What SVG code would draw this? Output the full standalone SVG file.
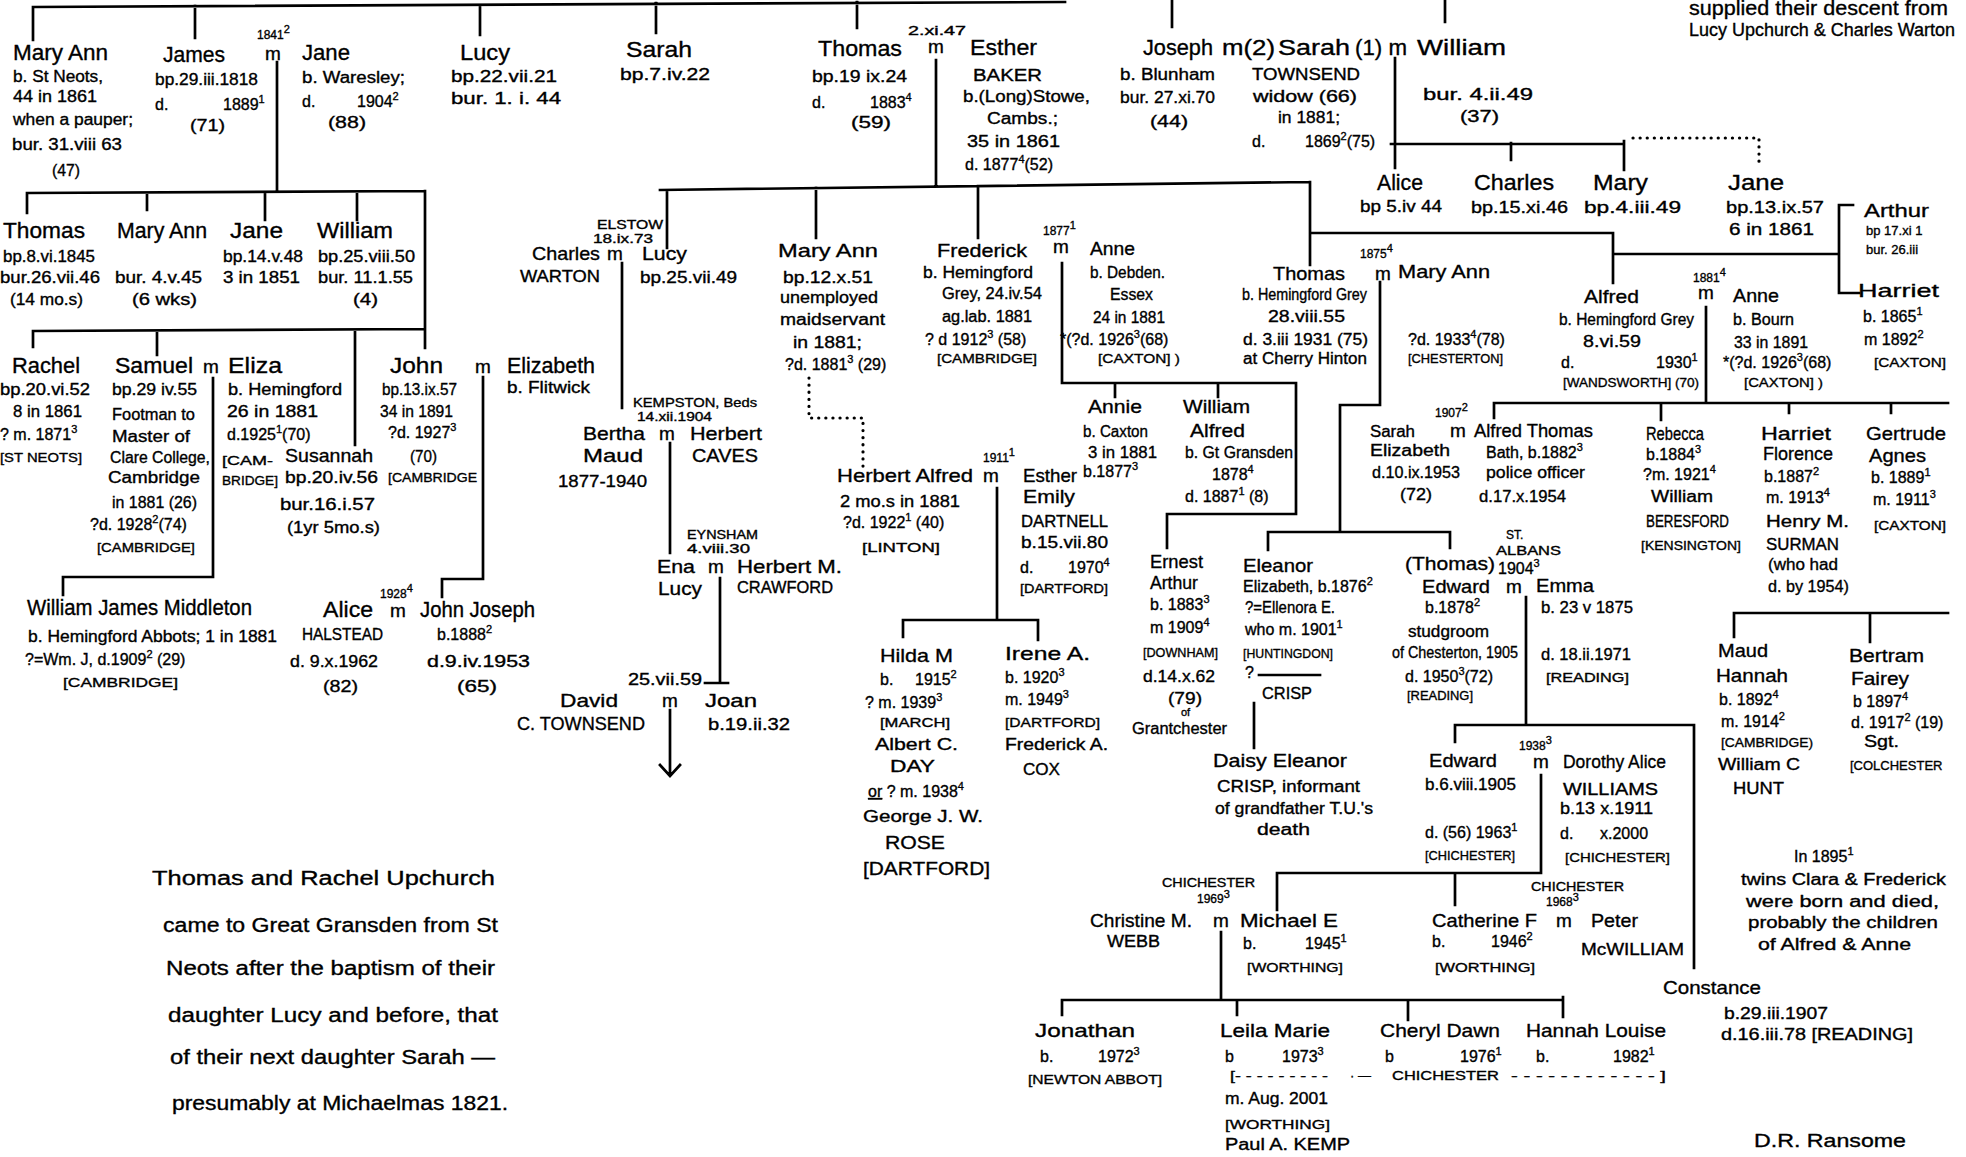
<svg xmlns="http://www.w3.org/2000/svg" width="1966" height="1157" viewBox="0 0 1966 1157">
<style>
text{font-family:"Liberation Sans",Arial,sans-serif;fill:#000;stroke:#000;stroke-width:0.35px}
.n{font-size:22px}
.a{font-size:19px}
.d{font-size:16px}
.m{font-size:19px}
.s{font-size:12px}
.k{font-size:13px}
.u{font-size:11px}
.t{font-size:20px}
.c{stroke:#000;stroke-width:2.7;fill:none;stroke-linecap:square}
.dt{stroke:#000;stroke-width:3.2;fill:none;stroke-dasharray:0.1 7;stroke-linecap:round}
</style>
<rect width="1966" height="1157" fill="#fff"/>
<g id="connectors">
<path class="c" d="M33,7 L1065,2 M33,7 V40 M195,6 V38 M480,5 V35 M656,3 V33 M857,2 V28 M1172,0 V27 M1445,0 V22
M277,62 V191 M27,193 L425,191 M27,193 V213 M147,193 V210 M265,192 V220 M357,192 V220 M425,191 V348
M33,331 L425,329 M33,331 V347 M157,331 V355 M355,330 V445
M213,378 V577 H63 V595 M483,377 V579 H442 V597
M936,60 V185 M660,190 L1310,182 M667,190 V248 M816,188 V238 M978,186 V238 M1310,182 V265 M1310,233 H1613 V283 M1613,254 H1839 M1853,205 H1839 V293 H1859
M622,263 V408 M670,443 V553 M720,578 V683 M705,683 H728 M670,710 V775 M660,765 L670,776 L680,765
M997,488 V620 M903,620 H1038 M903,620 V637 M1038,620 V640
M1062,263 V383 H1296 V514 H1167 V548 M1115,383 V397 M1218,383 V397
M1380,282 V405 H1340 V532 M1268,532 H1450 M1268,532 V550 M1450,532 V548 M1254,703 V748
M1526,597 V725 M1455,725 H1694 M1455,725 V742 M1694,725 V968
M1541,775 V872 M1277,873 H1541 M1277,873 V910 M1455,873 V905
M1221,932 V998 M1062,1000 H1563 M1062,1000 V1015 M1237,1000 V1015 M1408,1000 V1020 M1563,997 V1017
M1395,58 V168 M1391,144 H1623 M1511,143 V160 M1624,141 V170
M1706,307 V402 M1494,403 H1948 M1494,403 V418 M1661,403 V420 M1789,403 V413 M1891,403 V413
M1734,613 H1948 M1734,613 V637 M1870,613 V642"/>
<path class="dt" d="M1633,138 H1759 V167 M809,378 V418 H863 V468"/>
</g>

<g id="note-top">
<text class="t" x="1689" y="15" textLength="259" lengthAdjust="spacingAndGlyphs">supplied their descent from</text>
<text x="1689" y="36" font-size="18" textLength="266" lengthAdjust="spacingAndGlyphs">Lucy Upchurch &amp; Charles Warton</text>
</g>

<g id="mary-ann-1">
<text class="n" x="13" y="60" textLength="95" lengthAdjust="spacingAndGlyphs">Mary Ann</text>
<text class="d" x="13" y="82" textLength="90" lengthAdjust="spacingAndGlyphs">b. St Neots,</text>
<text class="d" x="13" y="102" textLength="84" lengthAdjust="spacingAndGlyphs">44 in 1861</text>
<text class="d" x="13" y="125" textLength="120" lengthAdjust="spacingAndGlyphs">when a pauper;</text>
<text class="d" x="12" y="150" textLength="110" lengthAdjust="spacingAndGlyphs">bur. 31.viii 63</text>
<text class="d" x="52" y="176" textLength="28" lengthAdjust="spacingAndGlyphs">(47)</text>
</g>
<g id="james">
<text class="n" x="163" y="62" textLength="62" lengthAdjust="spacingAndGlyphs">James</text>
<text class="d" x="155" y="85" textLength="103" lengthAdjust="spacingAndGlyphs">bp.29.iii.1818</text>
<text class="d" x="155" y="110">d.<tspan x="223">1889</tspan><tspan class="u" dy="-7">1</tspan></text>
<text class="d" x="190" y="131" textLength="35" lengthAdjust="spacingAndGlyphs">(71)</text>
</g>
<g id="m-james-jane">
<text class="s" x="257" y="39">1841<tspan class="u" dy="-6">2</tspan></text>
<text class="m" x="265" y="60">m</text>
</g>
<g id="jane-1">
<text class="n" x="302" y="60" textLength="48" lengthAdjust="spacingAndGlyphs">Jane</text>
<text class="d" x="302" y="83" textLength="103" lengthAdjust="spacingAndGlyphs">b. Waresley;</text>
<text class="d" x="302" y="107">d.<tspan x="357">1904</tspan><tspan class="u" dy="-7">2</tspan></text>
<text class="d" x="328" y="128" textLength="38" lengthAdjust="spacingAndGlyphs">(88)</text>
</g>
<g id="lucy-1">
<text class="n" x="460" y="60" textLength="50" lengthAdjust="spacingAndGlyphs">Lucy</text>
<text class="d" x="451" y="82" textLength="106" lengthAdjust="spacingAndGlyphs">bp.22.vii.21</text>
<text class="d" x="451" y="104" textLength="110" lengthAdjust="spacingAndGlyphs">bur. 1. i. 44</text>
</g>
<g id="sarah-1">
<text class="n" x="626" y="57" textLength="66" lengthAdjust="spacingAndGlyphs">Sarah</text>
<text class="d" x="620" y="80" textLength="90" lengthAdjust="spacingAndGlyphs">bp.7.iv.22</text>
</g>
<g id="thomas-1">
<text class="n" x="818" y="56" textLength="84" lengthAdjust="spacingAndGlyphs">Thomas</text>
<text class="d" x="812" y="82" textLength="95" lengthAdjust="spacingAndGlyphs">bp.19 ix.24</text>
<text class="d" x="812" y="108">d.<tspan x="870">1883</tspan><tspan class="u" dy="-7">4</tspan></text>
<text class="d" x="851" y="128" textLength="40" lengthAdjust="spacingAndGlyphs">(59)</text>
</g>
<g id="m-thomas-esther">
<text class="s" x="908" y="35" textLength="58" lengthAdjust="spacingAndGlyphs">2.xi.47</text>
<text class="m" x="928" y="53">m</text>
</g>
<g id="esther-baker">
<text class="n" x="970" y="55" textLength="67" lengthAdjust="spacingAndGlyphs">Esther</text>
<text class="d" x="973" y="81" textLength="69" lengthAdjust="spacingAndGlyphs">BAKER</text>
<text class="d" x="963" y="102" textLength="127" lengthAdjust="spacingAndGlyphs">b.(Long)Stowe,</text>
<text class="d" x="987" y="124" textLength="71" lengthAdjust="spacingAndGlyphs">Cambs.;</text>
<text class="d" x="967" y="147" textLength="93" lengthAdjust="spacingAndGlyphs">35 in 1861</text>
<text class="d" x="965" y="170">d. 1877<tspan class="u" dy="-7">4</tspan><tspan dy="7">(52)</tspan></text>
</g>
<g id="joseph">
<text class="n" x="1143" y="55" textLength="70" lengthAdjust="spacingAndGlyphs">Joseph</text>
<text class="d" x="1120" y="80" textLength="95" lengthAdjust="spacingAndGlyphs">b. Blunham</text>
<text class="d" x="1120" y="103" textLength="95" lengthAdjust="spacingAndGlyphs">bur. 27.xi.70</text>
<text class="d" x="1150" y="127" textLength="38" lengthAdjust="spacingAndGlyphs">(44)</text>
</g>
<g id="m-joseph-sarah">
<text class="n" x="1222" y="55" textLength="53" lengthAdjust="spacingAndGlyphs">m(2)</text>
</g>
<g id="sarah-townsend">
<text class="n" x="1278" y="55" textLength="72" lengthAdjust="spacingAndGlyphs">Sarah</text>
<text class="d" x="1252" y="80" textLength="108" lengthAdjust="spacingAndGlyphs">TOWNSEND</text>
<text class="d" x="1253" y="102" textLength="104" lengthAdjust="spacingAndGlyphs">widow (66)</text>
<text class="d" x="1278" y="123" textLength="62" lengthAdjust="spacingAndGlyphs">in 1881;</text>
<text class="d" x="1252" y="147">d.<tspan x="1305">1869</tspan><tspan class="u" dy="-7">2</tspan><tspan dy="7">(75)</tspan></text>
</g>
<g id="m-sarah-william">
<text class="n" x="1355" y="55" textLength="52" lengthAdjust="spacingAndGlyphs">(1) m</text>
</g>
<g id="william-1">
<text class="n" x="1417" y="55" textLength="89" lengthAdjust="spacingAndGlyphs">William</text>
<text class="d" x="1423" y="100" textLength="110" lengthAdjust="spacingAndGlyphs">bur. 4.ii.49</text>
<text class="d" x="1460" y="122" textLength="39" lengthAdjust="spacingAndGlyphs">(37)</text>
</g>
<g id="alice-1">
<text class="n" x="1377" y="190" textLength="46" lengthAdjust="spacingAndGlyphs">Alice</text>
<text class="d" x="1360" y="212" textLength="82" lengthAdjust="spacingAndGlyphs">bp 5.iv 44</text>
</g>
<g id="charles-1">
<text class="n" x="1474" y="190" textLength="80" lengthAdjust="spacingAndGlyphs">Charles</text>
<text class="d" x="1471" y="213" textLength="97" lengthAdjust="spacingAndGlyphs">bp.15.xi.46</text>
</g>
<g id="mary-1">
<text class="n" x="1593" y="190" textLength="55" lengthAdjust="spacingAndGlyphs">Mary</text>
<text class="d" x="1584" y="213" textLength="97" lengthAdjust="spacingAndGlyphs">bp.4.iii.49</text>
</g>
<g id="jane-2">
<text class="n" x="1728" y="190" textLength="56" lengthAdjust="spacingAndGlyphs">Jane</text>
<text class="d" x="1726" y="213" textLength="98" lengthAdjust="spacingAndGlyphs">bp.13.ix.57</text>
<text class="d" x="1729" y="235" textLength="85" lengthAdjust="spacingAndGlyphs">6 in 1861</text>
</g>

<g id="thomas-2">
<text class="n" x="3" y="238" textLength="82" lengthAdjust="spacingAndGlyphs">Thomas</text>
<text class="d" x="3" y="262" textLength="92" lengthAdjust="spacingAndGlyphs">bp.8.vi.1845</text>
<text class="d" x="0" y="283" textLength="100" lengthAdjust="spacingAndGlyphs">bur.26.vii.46</text>
<text class="d" x="10" y="305" textLength="73" lengthAdjust="spacingAndGlyphs">(14 mo.s)</text>
</g>
<g id="mary-ann-2">
<text class="n" x="117" y="238" textLength="90" lengthAdjust="spacingAndGlyphs">Mary Ann</text>
<text class="d" x="115" y="283" textLength="87" lengthAdjust="spacingAndGlyphs">bur. 4.v.45</text>
<text class="d" x="132" y="305" textLength="65" lengthAdjust="spacingAndGlyphs">(6 wks)</text>
</g>
<g id="jane-3">
<text class="n" x="230" y="238" textLength="53" lengthAdjust="spacingAndGlyphs">Jane</text>
<text class="d" x="223" y="262" textLength="80" lengthAdjust="spacingAndGlyphs">bp.14.v.48</text>
<text class="d" x="223" y="283" textLength="77" lengthAdjust="spacingAndGlyphs">3 in 1851</text>
</g>
<g id="william-2">
<text class="n" x="317" y="238" textLength="76" lengthAdjust="spacingAndGlyphs">William</text>
<text class="d" x="318" y="262" textLength="97" lengthAdjust="spacingAndGlyphs">bp.25.viii.50</text>
<text class="d" x="318" y="283" textLength="95" lengthAdjust="spacingAndGlyphs">bur. 11.1.55</text>
<text class="d" x="353" y="305" textLength="25" lengthAdjust="spacingAndGlyphs">(4)</text>
</g>

<g id="rachel">
<text class="n" x="12" y="373" textLength="68" lengthAdjust="spacingAndGlyphs">Rachel</text>
<text class="d" x="0" y="395" textLength="90" lengthAdjust="spacingAndGlyphs">bp.20.vi.52</text>
<text class="d" x="13" y="417" textLength="69" lengthAdjust="spacingAndGlyphs">8 in 1861</text>
<text class="d" x="0" y="440">? m. 1871<tspan class="u" dy="-7">3</tspan></text>
<text class="k" x="0" y="462" textLength="82" lengthAdjust="spacingAndGlyphs">[ST NEOTS]</text>
</g>
<g id="samuel">
<text class="n" x="115" y="373" textLength="78" lengthAdjust="spacingAndGlyphs">Samuel</text>
<text class="d" x="112" y="395" textLength="85" lengthAdjust="spacingAndGlyphs">bp.29 iv.55</text>
<text class="d" x="112" y="420" textLength="83" lengthAdjust="spacingAndGlyphs">Footman to</text>
<text class="d" x="112" y="442" textLength="78" lengthAdjust="spacingAndGlyphs">Master of</text>
<text class="d" x="110" y="463" textLength="100" lengthAdjust="spacingAndGlyphs">Clare College,</text>
<text class="d" x="108" y="483" textLength="92" lengthAdjust="spacingAndGlyphs">Cambridge</text>
<text class="d" x="112" y="508" textLength="85" lengthAdjust="spacingAndGlyphs">in 1881 (26)</text>
<text class="d" x="90" y="530">?d. 1928<tspan class="u" dy="-7">2</tspan><tspan dy="7">(74)</tspan></text>
<text class="k" x="97" y="552" textLength="98" lengthAdjust="spacingAndGlyphs">[CAMBRIDGE]</text>
</g>
<g id="m-samuel-eliza"><text class="m" x="203" y="373">m</text></g>
<g id="eliza">
<text class="n" x="228" y="373" textLength="54" lengthAdjust="spacingAndGlyphs">Eliza</text>
<text class="d" x="228" y="395" textLength="114" lengthAdjust="spacingAndGlyphs">b. Hemingford</text>
<text class="d" x="227" y="417" textLength="91" lengthAdjust="spacingAndGlyphs">26 in 1881</text>
<text class="d" x="227" y="440">d.1925<tspan class="u" dy="-7">1</tspan><tspan dy="7">(70)</tspan></text>
<text class="k" x="222" y="465" textLength="51" lengthAdjust="spacingAndGlyphs">[CAM-</text>
<text class="k" x="222" y="485" textLength="56" lengthAdjust="spacingAndGlyphs">BRIDGE]</text>
</g>
<g id="susannah">
<text class="a" x="285" y="462" textLength="88" lengthAdjust="spacingAndGlyphs">Susannah</text>
<text class="d" x="285" y="483" textLength="93" lengthAdjust="spacingAndGlyphs">bp.20.iv.56</text>
<text class="d" x="280" y="510" textLength="95" lengthAdjust="spacingAndGlyphs">bur.16.i.57</text>
<text class="d" x="287" y="533" textLength="93" lengthAdjust="spacingAndGlyphs">(1yr 5mo.s)</text>
</g>
<g id="john">
<text class="n" x="390" y="373" textLength="53" lengthAdjust="spacingAndGlyphs">John</text>
<text class="d" x="382" y="395" textLength="75" lengthAdjust="spacingAndGlyphs">bp.13.ix.57</text>
<text class="d" x="380" y="417" textLength="73" lengthAdjust="spacingAndGlyphs">34 in 1891</text>
<text class="d" x="388" y="438">?d. 1927<tspan class="u" dy="-7">3</tspan></text>
<text class="d" x="410" y="462" textLength="27" lengthAdjust="spacingAndGlyphs">(70)</text>
<text class="k" x="388" y="482" textLength="89" lengthAdjust="spacingAndGlyphs">[CAMBRIDGE</text>
</g>
<g id="m-john-elizabeth"><text class="m" x="475" y="373">m</text></g>
<g id="elizabeth">
<text class="n" x="507" y="373" textLength="88" lengthAdjust="spacingAndGlyphs">Elizabeth</text>
<text class="d" x="507" y="393" textLength="83" lengthAdjust="spacingAndGlyphs">b. Flitwick</text>
</g>
<g id="william-james-middleton">
<text class="n" x="27" y="615" textLength="225" lengthAdjust="spacingAndGlyphs">William James Middleton</text>
<text class="d" x="28" y="642" textLength="249" lengthAdjust="spacingAndGlyphs">b. Hemingford Abbots; 1 in 1881</text>
<text class="d" x="25" y="665">?=Wm. J, d.1909<tspan class="u" dy="-7">2</tspan><tspan dy="7"> (29)</tspan></text>
<text class="k" x="63" y="687" textLength="115" lengthAdjust="spacingAndGlyphs">[CAMBRIDGE]</text>
</g>
<g id="m-alice-john">
<text class="s" x="380" y="598">1928<tspan class="u" dy="-6">4</tspan></text>
<text class="m" x="390" y="617">m</text>
</g>
<g id="alice-halstead">
<text class="n" x="323" y="617" textLength="50" lengthAdjust="spacingAndGlyphs">Alice</text>
<text class="d" x="302" y="640" textLength="81" lengthAdjust="spacingAndGlyphs">HALSTEAD</text>
<text class="d" x="290" y="667" textLength="88" lengthAdjust="spacingAndGlyphs">d. 9.x.1962</text>
<text class="d" x="323" y="692" textLength="35" lengthAdjust="spacingAndGlyphs">(82)</text>
</g>
<g id="john-joseph">
<text class="n" x="420" y="617" textLength="115" lengthAdjust="spacingAndGlyphs">John Joseph</text>
<text class="d" x="437" y="640">b.1888<tspan class="u" dy="-7">2</tspan></text>
<text class="d" x="427" y="667" textLength="103" lengthAdjust="spacingAndGlyphs">d.9.iv.1953</text>
<text class="d" x="457" y="692" textLength="40" lengthAdjust="spacingAndGlyphs">(65)</text>
</g>

<g id="charles-warton">
<text class="a" x="532" y="260" textLength="68" lengthAdjust="spacingAndGlyphs">Charles</text>
<text class="d" x="520" y="282" textLength="80" lengthAdjust="spacingAndGlyphs">WARTON</text>
</g>
<g id="m-charles-lucy">
<text class="s" x="597" y="229" textLength="66" lengthAdjust="spacingAndGlyphs">ELSTOW</text>
<text class="s" x="593" y="243" textLength="60" lengthAdjust="spacingAndGlyphs">18.ix.73</text>
<text class="m" x="607" y="260">m</text>
</g>
<g id="lucy-2">
<text class="a" x="642" y="260" textLength="45" lengthAdjust="spacingAndGlyphs">Lucy</text>
<text class="d" x="640" y="283" textLength="97" lengthAdjust="spacingAndGlyphs">bp.25.vii.49</text>
</g>
<g id="bertha-maud">
<text class="a" x="583" y="440" textLength="62" lengthAdjust="spacingAndGlyphs">Bertha</text>
<text class="a" x="583" y="462" textLength="60" lengthAdjust="spacingAndGlyphs">Maud</text>
<text class="d" x="558" y="487" textLength="89" lengthAdjust="spacingAndGlyphs">1877-1940</text>
</g>
<g id="m-bertha-herbert">
<text class="s" x="633" y="407" textLength="124" lengthAdjust="spacingAndGlyphs">KEMPSTON, Beds</text>
<text class="s" x="637" y="421" textLength="75" lengthAdjust="spacingAndGlyphs">14.xii.1904</text>
<text class="m" x="659" y="440">m</text>
</g>
<g id="herbert-caves">
<text class="a" x="690" y="440" textLength="72" lengthAdjust="spacingAndGlyphs">Herbert</text>
<text class="a" x="692" y="462" textLength="66" lengthAdjust="spacingAndGlyphs">CAVES</text>
</g>
<g id="ena-lucy">
<text class="a" x="657" y="573" textLength="38" lengthAdjust="spacingAndGlyphs">Ena</text>
<text class="a" x="658" y="595" textLength="44" lengthAdjust="spacingAndGlyphs">Lucy</text>
</g>
<g id="m-ena-herbert">
<text class="s" x="687" y="539" textLength="71" lengthAdjust="spacingAndGlyphs">EYNSHAM</text>
<text class="s" x="687" y="553" textLength="63" lengthAdjust="spacingAndGlyphs">4.viii.30</text>
<text class="m" x="708" y="573">m</text>
</g>
<g id="herbert-crawford">
<text class="a" x="737" y="573" textLength="105" lengthAdjust="spacingAndGlyphs">Herbert M.</text>
<text class="d" x="737" y="593" textLength="96" lengthAdjust="spacingAndGlyphs">CRAWFORD</text>
</g>
<g id="m-david-joan">
<text class="d" x="628" y="685" textLength="74" lengthAdjust="spacingAndGlyphs">25.vii.59</text>
<text class="m" x="662" y="707">m</text>
</g>
<g id="david-townsend">
<text class="a" x="560" y="707" textLength="58" lengthAdjust="spacingAndGlyphs">David</text>
<text class="a" x="517" y="730" textLength="128" lengthAdjust="spacingAndGlyphs">C. TOWNSEND</text>
</g>
<g id="joan">
<text class="a" x="705" y="707" textLength="52" lengthAdjust="spacingAndGlyphs">Joan</text>
<text class="d" x="708" y="730" textLength="82" lengthAdjust="spacingAndGlyphs">b.19.ii.32</text>
</g>

<g id="mary-ann-3">
<text class="a" x="778" y="257" textLength="100" lengthAdjust="spacingAndGlyphs">Mary Ann</text>
<text class="d" x="783" y="283" textLength="90" lengthAdjust="spacingAndGlyphs">bp.12.x.51</text>
<text class="d" x="780" y="303" textLength="98" lengthAdjust="spacingAndGlyphs">unemployed</text>
<text class="d" x="780" y="325" textLength="105" lengthAdjust="spacingAndGlyphs">maidservant</text>
<text class="d" x="793" y="348" textLength="69" lengthAdjust="spacingAndGlyphs">in 1881;</text>
<text class="d" x="785" y="370">?d. 1881<tspan class="u" dy="-7">3</tspan><tspan dy="7"> (29)</tspan></text>
</g>
<g id="herbert-alfred">
<text class="a" x="837" y="482" textLength="136" lengthAdjust="spacingAndGlyphs">Herbert Alfred</text>
<text class="d" x="840" y="507" textLength="120" lengthAdjust="spacingAndGlyphs">2 mo.s in 1881</text>
<text class="d" x="843" y="528">?d. 1922<tspan class="u" dy="-7">1</tspan><tspan dy="7"> (40)</tspan></text>
<text class="k" x="862" y="552" textLength="78" lengthAdjust="spacingAndGlyphs">[LINTON]</text>
</g>
<g id="m-herbert-esther">
<text class="s" x="983" y="462">1911<tspan class="u" dy="-6">1</tspan></text>
<text class="m" x="983" y="482">m</text>
</g>
<g id="esther-dartnell">
<text class="a" x="1023" y="482" textLength="54" lengthAdjust="spacingAndGlyphs">Esther</text>
<text class="a" x="1023" y="503" textLength="52" lengthAdjust="spacingAndGlyphs">Emily</text>
<text class="d" x="1021" y="527" textLength="87" lengthAdjust="spacingAndGlyphs">DARTNELL</text>
<text class="d" x="1021" y="548" textLength="87" lengthAdjust="spacingAndGlyphs">b.15.vii.80</text>
<text class="d" x="1020" y="573">d.<tspan x="1068">1970</tspan><tspan class="u" dy="-7">4</tspan></text>
<text class="k" x="1020" y="593" textLength="88" lengthAdjust="spacingAndGlyphs">[DARTFORD]</text>
</g>
<g id="hilda-m">
<text class="a" x="880" y="662" textLength="73" lengthAdjust="spacingAndGlyphs">Hilda M</text>
<text class="d" x="880" y="685">b.<tspan x="915">1915</tspan><tspan class="u" dy="-7">2</tspan></text>
<text class="d" x="865" y="708">? m. 1939<tspan class="u" dy="-7">3</tspan></text>
<text class="k" x="880" y="727" textLength="70" lengthAdjust="spacingAndGlyphs">[MARCH]</text>
<text class="d" x="875" y="750" textLength="83" lengthAdjust="spacingAndGlyphs">Albert C.</text>
<text class="d" x="890" y="772" textLength="45" lengthAdjust="spacingAndGlyphs">DAY</text>
<text class="d" x="868" y="797"><tspan style="text-decoration:underline">or</tspan> ? m. 1938<tspan class="u" dy="-7">4</tspan></text>
<text class="d" x="863" y="822" textLength="120" lengthAdjust="spacingAndGlyphs">George J. W.</text>
<text class="a" x="885" y="849" textLength="60" lengthAdjust="spacingAndGlyphs">ROSE</text>
<text class="a" x="863" y="875" textLength="127" lengthAdjust="spacingAndGlyphs">[DARTFORD]</text>
</g>
<g id="irene-a">
<text class="a" x="1005" y="660" textLength="85" lengthAdjust="spacingAndGlyphs">Irene A.</text>
<text class="d" x="1005" y="683">b. 1920<tspan class="u" dy="-7">3</tspan></text>
<text class="d" x="1005" y="705">m. 1949<tspan class="u" dy="-7">3</tspan></text>
<text class="k" x="1005" y="727" textLength="95" lengthAdjust="spacingAndGlyphs">[DARTFORD]</text>
<text class="d" x="1005" y="750" textLength="103" lengthAdjust="spacingAndGlyphs">Frederick A.</text>
<text class="d" x="1023" y="775" textLength="37" lengthAdjust="spacingAndGlyphs">COX</text>
</g>

<g id="frederick">
<text class="a" x="937" y="257" textLength="90" lengthAdjust="spacingAndGlyphs">Frederick</text>
<text class="d" x="923" y="278" textLength="110" lengthAdjust="spacingAndGlyphs">b. Hemingford</text>
<text class="d" x="942" y="299" textLength="100" lengthAdjust="spacingAndGlyphs">Grey, 24.iv.54</text>
<text class="d" x="942" y="322" textLength="90" lengthAdjust="spacingAndGlyphs">ag.lab. 1881</text>
<text class="d" x="925" y="345">? d 1912<tspan class="u" dy="-7">3</tspan><tspan dy="7"> (58)</tspan></text>
<text class="k" x="937" y="363" textLength="100" lengthAdjust="spacingAndGlyphs">[CAMBRIDGE]</text>
</g>
<g id="m-frederick-anne">
<text class="s" x="1043" y="235">1877<tspan class="u" dy="-6">1</tspan></text>
<text class="m" x="1053" y="253">m</text>
</g>
<g id="anne-1">
<text class="a" x="1090" y="255" textLength="45" lengthAdjust="spacingAndGlyphs">Anne</text>
<text class="d" x="1090" y="278" textLength="75" lengthAdjust="spacingAndGlyphs">b. Debden.</text>
<text class="d" x="1110" y="300" textLength="43" lengthAdjust="spacingAndGlyphs">Essex</text>
<text class="d" x="1093" y="323" textLength="72" lengthAdjust="spacingAndGlyphs">24 in 1881</text>
<text class="d" x="1060" y="345">*(?d. 1926<tspan class="u" dy="-7">3</tspan><tspan dy="7">(68)</tspan></text>
<text class="k" x="1098" y="363" textLength="82" lengthAdjust="spacingAndGlyphs">[CAXTON] )</text>
</g>
<g id="annie">
<text class="a" x="1088" y="413" textLength="54" lengthAdjust="spacingAndGlyphs">Annie</text>
<text class="d" x="1083" y="437" textLength="65" lengthAdjust="spacingAndGlyphs">b. Caxton</text>
<text class="d" x="1088" y="458" textLength="69" lengthAdjust="spacingAndGlyphs">3 in 1881</text>
<text class="d" x="1083" y="477">b.1877<tspan class="u" dy="-7">3</tspan></text>
</g>
<g id="william-alfred">
<text class="a" x="1183" y="413" textLength="67" lengthAdjust="spacingAndGlyphs">William</text>
<text class="a" x="1190" y="437" textLength="55" lengthAdjust="spacingAndGlyphs">Alfred</text>
<text class="d" x="1185" y="458" textLength="108" lengthAdjust="spacingAndGlyphs">b. Gt Gransden</text>
<text class="d" x="1212" y="480">1878<tspan class="u" dy="-7">4</tspan></text>
<text class="d" x="1185" y="502">d. 1887<tspan class="u" dy="-7">1</tspan><tspan dy="7"> (8)</tspan></text>
</g>
<g id="ernest-arthur">
<text class="a" x="1150" y="568" textLength="53" lengthAdjust="spacingAndGlyphs">Ernest</text>
<text class="a" x="1150" y="589" textLength="48" lengthAdjust="spacingAndGlyphs">Arthur</text>
<text class="d" x="1150" y="610">b. 1883<tspan class="u" dy="-7">3</tspan></text>
<text class="d" x="1150" y="633">m 1909<tspan class="u" dy="-7">4</tspan></text>
<text class="k" x="1143" y="657" textLength="75" lengthAdjust="spacingAndGlyphs">[DOWNHAM]</text>
<text class="d" x="1143" y="682" textLength="72" lengthAdjust="spacingAndGlyphs">d.14.x.62</text>
<text class="d" x="1168" y="704" textLength="34" lengthAdjust="spacingAndGlyphs">(79)</text>
<text class="u" x="1181" y="716">of</text>
<text class="d" x="1132" y="734" textLength="95" lengthAdjust="spacingAndGlyphs">Grantchester</text>
</g>

<g id="thomas-3">
<text class="a" x="1273" y="280" textLength="72" lengthAdjust="spacingAndGlyphs">Thomas</text>
<text class="d" x="1242" y="300" textLength="125" lengthAdjust="spacingAndGlyphs">b. Hemingford Grey</text>
<text class="d" x="1268" y="322" textLength="77" lengthAdjust="spacingAndGlyphs">28.viii.55</text>
<text class="d" x="1243" y="345" textLength="125" lengthAdjust="spacingAndGlyphs">d. 3.iii 1931 (75)</text>
<text class="d" x="1243" y="364" textLength="124" lengthAdjust="spacingAndGlyphs">at Cherry Hinton</text>
</g>
<g id="m-thomas-maryann">
<text class="s" x="1360" y="258">1875<tspan class="u" dy="-6">4</tspan></text>
<text class="m" x="1375" y="280">m</text>
</g>
<g id="mary-ann-4">
<text class="a" x="1398" y="278" textLength="92" lengthAdjust="spacingAndGlyphs">Mary Ann</text>
<text class="d" x="1408" y="345">?d. 1933<tspan class="u" dy="-7">4</tspan><tspan dy="7">(78)</tspan></text>
<text class="k" x="1408" y="363" textLength="95" lengthAdjust="spacingAndGlyphs">[CHESTERTON]</text>
</g>
<g id="sarah-elizabeth">
<text class="d" x="1370" y="437" textLength="45" lengthAdjust="spacingAndGlyphs">Sarah</text>
<text class="d" x="1370" y="456" textLength="80" lengthAdjust="spacingAndGlyphs">Elizabeth</text>
<text class="d" x="1372" y="478" textLength="88" lengthAdjust="spacingAndGlyphs">d.10.ix.1953</text>
<text class="d" x="1400" y="500" textLength="32" lengthAdjust="spacingAndGlyphs">(72)</text>
</g>
<g id="m-sarah-alfred">
<text class="s" x="1435" y="417">1907<tspan class="u" dy="-6">2</tspan></text>
<text class="m" x="1450" y="437">m</text>
</g>
<g id="alfred-thomas">
<text class="a" x="1474" y="437" textLength="119" lengthAdjust="spacingAndGlyphs">Alfred Thomas</text>
<text class="d" x="1486" y="458">Bath, b.1882<tspan class="u" dy="-7">3</tspan></text>
<text class="d" x="1486" y="478" textLength="99" lengthAdjust="spacingAndGlyphs">police officer</text>
<text class="d" x="1479" y="502" textLength="87" lengthAdjust="spacingAndGlyphs">d.17.x.1954</text>
</g>
<g id="eleanor-elizabeth">
<text class="a" x="1243" y="572" textLength="70" lengthAdjust="spacingAndGlyphs">Eleanor</text>
<text class="d" x="1243" y="592">Elizabeth, b.1876<tspan class="u" dy="-7">2</tspan></text>
<text class="d" x="1245" y="613" textLength="90" lengthAdjust="spacingAndGlyphs">?=Ellenora E.</text>
<text class="d" x="1245" y="635">who m. 1901<tspan class="u" dy="-7">1</tspan></text>
<text class="k" x="1243" y="658" textLength="90" lengthAdjust="spacingAndGlyphs">[HUNTINGDON]</text>
<text class="d" x="1245" y="678">?</text>
<path class="c" d="M1259,675 H1320" stroke-width="2"/>
<text class="d" x="1262" y="699" textLength="50" lengthAdjust="spacingAndGlyphs">CRISP</text>
</g>
<g id="daisy-eleanor">
<text class="a" x="1213" y="767" textLength="134" lengthAdjust="spacingAndGlyphs">Daisy Eleanor</text>
<text class="d" x="1217" y="792" textLength="143" lengthAdjust="spacingAndGlyphs">CRISP, informant</text>
<text class="d" x="1215" y="814" textLength="158" lengthAdjust="spacingAndGlyphs">of grandfather T.U.'s</text>
<text class="d" x="1257" y="835" textLength="53" lengthAdjust="spacingAndGlyphs">death</text>
</g>
<g id="thomas-edward">
<text class="a" x="1405" y="570" textLength="90" lengthAdjust="spacingAndGlyphs">(Thomas)</text>
<text class="a" x="1422" y="593" textLength="68" lengthAdjust="spacingAndGlyphs">Edward</text>
<text class="d" x="1425" y="613">b.1878<tspan class="u" dy="-7">2</tspan></text>
<text class="d" x="1408" y="637" textLength="81" lengthAdjust="spacingAndGlyphs">studgroom</text>
<text class="d" x="1392" y="658" textLength="126" lengthAdjust="spacingAndGlyphs">of Chesterton, 1905</text>
<text class="d" x="1405" y="682">d. 1950<tspan class="u" dy="-7">3</tspan><tspan dy="7">(72)</tspan></text>
<text class="k" x="1407" y="700" textLength="66" lengthAdjust="spacingAndGlyphs">[READING]</text>
</g>
<g id="m-thomas-emma">
<text class="s" x="1506" y="539">ST.</text>
<text class="s" x="1496" y="555" textLength="65" lengthAdjust="spacingAndGlyphs">ALBANS</text>
<text class="d" x="1498" y="574">1904<tspan class="u" dy="-7">3</tspan></text>
<text class="m" x="1506" y="593">m</text>
</g>
<g id="emma">
<text class="a" x="1536" y="592" textLength="58" lengthAdjust="spacingAndGlyphs">Emma</text>
<text class="d" x="1541" y="613" textLength="92" lengthAdjust="spacingAndGlyphs">b. 23 v 1875</text>
<text class="d" x="1541" y="660" textLength="90" lengthAdjust="spacingAndGlyphs">d. 18.ii.1971</text>
<text class="k" x="1546" y="682" textLength="83" lengthAdjust="spacingAndGlyphs">[READING]</text>
</g>
<g id="edward">
<text class="a" x="1429" y="767" textLength="68" lengthAdjust="spacingAndGlyphs">Edward</text>
<text class="d" x="1425" y="790" textLength="91" lengthAdjust="spacingAndGlyphs">b.6.viii.1905</text>
<text class="d" x="1425" y="838">d. (56) 1963<tspan class="u" dy="-7">1</tspan></text>
<text class="k" x="1425" y="860" textLength="90" lengthAdjust="spacingAndGlyphs">[CHICHESTER]</text>
</g>
<g id="m-edward-dorothy">
<text class="s" x="1519" y="750">1938<tspan class="u" dy="-6">3</tspan></text>
<text class="m" x="1533" y="768">m</text>
</g>
<g id="dorothy-alice">
<text class="a" x="1563" y="768" textLength="103" lengthAdjust="spacingAndGlyphs">Dorothy Alice</text>
<text class="d" x="1563" y="795" textLength="95" lengthAdjust="spacingAndGlyphs">WILLIAMS</text>
<text class="d" x="1560" y="814" textLength="93" lengthAdjust="spacingAndGlyphs">b.13 x.1911</text>
<text class="d" x="1560" y="839">d.<tspan x="1600">x.2000</tspan></text>
<text class="k" x="1565" y="862" textLength="105" lengthAdjust="spacingAndGlyphs">[CHICHESTER]</text>
</g>
<g id="constance">
<text class="a" x="1663" y="994" textLength="98" lengthAdjust="spacingAndGlyphs">Constance</text>
<text class="d" x="1724" y="1019" textLength="104" lengthAdjust="spacingAndGlyphs">b.29.iii.1907</text>
<text class="d" x="1721" y="1040" textLength="192" lengthAdjust="spacingAndGlyphs">d.16.iii.78 [READING]</text>
</g>
<g id="christine-webb">
<text class="a" x="1090" y="927" textLength="102" lengthAdjust="spacingAndGlyphs">Christine M.</text>
<text class="d" x="1107" y="947" textLength="53" lengthAdjust="spacingAndGlyphs">WEBB</text>
</g>
<g id="m-christine-michael">
<text class="s" x="1162" y="887" textLength="93" lengthAdjust="spacingAndGlyphs">CHICHESTER</text>
<text class="s" x="1197" y="903">1969<tspan class="u" dy="-5">3</tspan></text>
<text class="m" x="1213" y="927">m</text>
</g>
<g id="michael-e">
<text class="a" x="1240" y="927" textLength="98" lengthAdjust="spacingAndGlyphs">Michael E</text>
<text class="d" x="1243" y="949">b.<tspan x="1305">1945</tspan><tspan class="u" dy="-7">1</tspan></text>
<text class="k" x="1247" y="972" textLength="96" lengthAdjust="spacingAndGlyphs">[WORTHING]</text>
</g>
<g id="catherine-f">
<text class="a" x="1432" y="927" textLength="105" lengthAdjust="spacingAndGlyphs">Catherine F</text>
<text class="d" x="1432" y="947">b.<tspan x="1491">1946</tspan><tspan class="u" dy="-7">2</tspan></text>
<text class="k" x="1435" y="972" textLength="100" lengthAdjust="spacingAndGlyphs">[WORTHING]</text>
</g>
<g id="m-catherine-peter">
<text class="s" x="1531" y="891" textLength="93" lengthAdjust="spacingAndGlyphs">CHICHESTER</text>
<text class="s" x="1546" y="906">1968<tspan class="u" dy="-5">3</tspan></text>
<text class="m" x="1556" y="927">m</text>
</g>
<g id="peter-mcwilliam">
<text class="a" x="1591" y="927" textLength="47" lengthAdjust="spacingAndGlyphs">Peter</text>
<text class="d" x="1581" y="955" textLength="103" lengthAdjust="spacingAndGlyphs">McWILLIAM</text>
</g>
<g id="jonathan">
<text class="a" x="1035" y="1037" textLength="100" lengthAdjust="spacingAndGlyphs">Jonathan</text>
<text class="d" x="1040" y="1062">b.<tspan x="1098">1972</tspan><tspan class="u" dy="-7">3</tspan></text>
<text class="k" x="1028" y="1084" textLength="134" lengthAdjust="spacingAndGlyphs">[NEWTON ABBOT]</text>
</g>
<g id="leila-marie">
<text class="a" x="1220" y="1037" textLength="110" lengthAdjust="spacingAndGlyphs">Leila Marie</text>
<text class="d" x="1225" y="1062">b<tspan x="1282">1973</tspan><tspan class="u" dy="-7">3</tspan></text>
<text class="d" x="1225" y="1104" textLength="103" lengthAdjust="spacingAndGlyphs">m. Aug. 2001</text>
<text class="k" x="1225" y="1129" textLength="105" lengthAdjust="spacingAndGlyphs">[WORTHING]</text>
<text class="d" x="1225" y="1150" textLength="125" lengthAdjust="spacingAndGlyphs">Paul A. KEMP</text>
</g>
<g id="cheryl-dawn">
<text class="a" x="1380" y="1037" textLength="120" lengthAdjust="spacingAndGlyphs">Cheryl Dawn</text>
<text class="d" x="1385" y="1062">b<tspan x="1460">1976</tspan><tspan class="u" dy="-7">1</tspan></text>
</g>
<g id="hannah-louise">
<text class="a" x="1526" y="1037" textLength="140" lengthAdjust="spacingAndGlyphs">Hannah Louise</text>
<text class="d" x="1536" y="1062">b.<tspan x="1613">1982</tspan><tspan class="u" dy="-7">1</tspan></text>
</g>
<g id="chichester-note">
<text class="k" x="1230" y="1080" textLength="98" lengthAdjust="spacingAndGlyphs">[- - - - - - - - -</text>
<text class="k" x="1350" y="1080">· —</text>
<text class="k" x="1392" y="1080" textLength="107" lengthAdjust="spacingAndGlyphs">CHICHESTER</text>
<text class="k" x="1511" y="1080" textLength="155" lengthAdjust="spacingAndGlyphs">- - - - - - - - - - - - ]</text>
</g>

<g id="alfred-2">
<text class="a" x="1584" y="303" textLength="55" lengthAdjust="spacingAndGlyphs">Alfred</text>
<text class="d" x="1559" y="325" textLength="135" lengthAdjust="spacingAndGlyphs">b. Hemingford Grey</text>
<text class="d" x="1583" y="347" textLength="58" lengthAdjust="spacingAndGlyphs">8.vi.59</text>
<text class="d" x="1561" y="368">d.<tspan x="1656">1930</tspan><tspan class="u" dy="-7">1</tspan></text>
<text class="k" x="1563" y="387" textLength="136" lengthAdjust="spacingAndGlyphs">[WANDSWORTH] (70)</text>
</g>
<g id="m-alfred-anne">
<text class="s" x="1693" y="282">1881<tspan class="u" dy="-6">4</tspan></text>
<text class="m" x="1698" y="299">m</text>
</g>
<g id="anne-bourn">
<text class="a" x="1733" y="302" textLength="46" lengthAdjust="spacingAndGlyphs">Anne</text>
<text class="d" x="1733" y="325" textLength="61" lengthAdjust="spacingAndGlyphs">b. Bourn</text>
<text class="d" x="1734" y="348" textLength="74" lengthAdjust="spacingAndGlyphs">33 in 1891</text>
<text class="d" x="1723" y="368">*(?d. 1926<tspan class="u" dy="-7">3</tspan><tspan dy="7">(68)</tspan></text>
<text class="k" x="1744" y="387" textLength="79" lengthAdjust="spacingAndGlyphs">[CAXTON] )</text>
</g>
<g id="arthur">
<text class="a" x="1864" y="217" textLength="65" lengthAdjust="spacingAndGlyphs">Arthur</text>
<text class="k" x="1866" y="235">bp 17.xi 1</text>
<text class="k" x="1866" y="254">bur. 26.iii</text>
</g>
<g id="harriet-1">
<text class="a" x="1858" y="297" textLength="81" lengthAdjust="spacingAndGlyphs">Harriet</text>
<text class="d" x="1863" y="322">b. 1865<tspan class="u" dy="-7">1</tspan></text>
<text class="d" x="1864" y="345">m 1892<tspan class="u" dy="-7">2</tspan></text>
<text class="k" x="1874" y="367" textLength="72" lengthAdjust="spacingAndGlyphs">[CAXTON]</text>
</g>
<g id="rebecca">
<text class="a" x="1646" y="440" textLength="58" lengthAdjust="spacingAndGlyphs">Rebecca</text>
<text class="d" x="1646" y="460">b.1884<tspan class="u" dy="-7">3</tspan></text>
<text class="d" x="1643" y="480">?m. 1921<tspan class="u" dy="-7">4</tspan></text>
<text class="d" x="1651" y="502" textLength="62" lengthAdjust="spacingAndGlyphs">William</text>
<text class="d" x="1646" y="527" textLength="83" lengthAdjust="spacingAndGlyphs">BERESFORD</text>
<text class="k" x="1641" y="550" textLength="100" lengthAdjust="spacingAndGlyphs">[KENSINGTON]</text>
</g>
<g id="harriet-florence">
<text class="a" x="1761" y="440" textLength="70" lengthAdjust="spacingAndGlyphs">Harriet</text>
<text class="a" x="1763" y="460" textLength="70" lengthAdjust="spacingAndGlyphs">Florence</text>
<text class="d" x="1764" y="482">b.1887<tspan class="u" dy="-7">2</tspan></text>
<text class="d" x="1766" y="503">m. 1913<tspan class="u" dy="-7">4</tspan></text>
<text class="d" x="1766" y="527" textLength="83" lengthAdjust="spacingAndGlyphs">Henry M.</text>
<text class="d" x="1766" y="550" textLength="73" lengthAdjust="spacingAndGlyphs">SURMAN</text>
<text class="d" x="1768" y="570" textLength="70" lengthAdjust="spacingAndGlyphs">(who had</text>
<text class="d" x="1768" y="592" textLength="81" lengthAdjust="spacingAndGlyphs">d. by 1954)</text>
</g>
<g id="gertrude-agnes">
<text class="a" x="1866" y="440" textLength="80" lengthAdjust="spacingAndGlyphs">Gertrude</text>
<text class="a" x="1869" y="462" textLength="57" lengthAdjust="spacingAndGlyphs">Agnes</text>
<text class="d" x="1871" y="483">b. 1889<tspan class="u" dy="-7">1</tspan></text>
<text class="d" x="1873" y="505">m. 1911<tspan class="u" dy="-7">3</tspan></text>
<text class="k" x="1874" y="530" textLength="72" lengthAdjust="spacingAndGlyphs">[CAXTON]</text>
</g>
<g id="maud-hannah">
<text class="a" x="1718" y="657" textLength="50" lengthAdjust="spacingAndGlyphs">Maud</text>
<text class="a" x="1716" y="682" textLength="72" lengthAdjust="spacingAndGlyphs">Hannah</text>
<text class="d" x="1719" y="705">b. 1892<tspan class="u" dy="-7">4</tspan></text>
<text class="d" x="1721" y="727">m. 1914<tspan class="u" dy="-7">2</tspan></text>
<text class="k" x="1721" y="747" textLength="92" lengthAdjust="spacingAndGlyphs">[CAMBRIDGE)</text>
<text class="d" x="1718" y="770" textLength="82" lengthAdjust="spacingAndGlyphs">William C</text>
<text class="d" x="1733" y="794" textLength="51" lengthAdjust="spacingAndGlyphs">HUNT</text>
</g>
<g id="bertram-fairey">
<text class="a" x="1849" y="662" textLength="75" lengthAdjust="spacingAndGlyphs">Bertram</text>
<text class="a" x="1851" y="685" textLength="58" lengthAdjust="spacingAndGlyphs">Fairey</text>
<text class="d" x="1853" y="707">b 1897<tspan class="u" dy="-7">4</tspan></text>
<text class="d" x="1851" y="728">d. 1917<tspan class="u" dy="-7">2</tspan><tspan dy="7"> (19)</tspan></text>
<text class="d" x="1864" y="747" textLength="35" lengthAdjust="spacingAndGlyphs">Sgt.</text>
<text class="k" x="1850" y="770">[COLCHESTER</text>
</g>
<g id="twins-note">
<text class="d" x="1794" y="862">In 1895<tspan class="u" dy="-7">1</tspan></text>
<text class="d" x="1741" y="885" textLength="205" lengthAdjust="spacingAndGlyphs">twins Clara &amp; Frederick</text>
<text class="d" x="1746" y="907" textLength="193" lengthAdjust="spacingAndGlyphs">were born and died,</text>
<text class="d" x="1748" y="928" textLength="190" lengthAdjust="spacingAndGlyphs">probably the children</text>
<text class="d" x="1758" y="950" textLength="153" lengthAdjust="spacingAndGlyphs">of Alfred &amp; Anne</text>
</g>
<g id="signature">
<text class="a" x="1754" y="1147" textLength="152" lengthAdjust="spacingAndGlyphs">D.R. Ransome</text>
</g>
<g id="note-left">
<text class="t" x="152" y="885" textLength="343" lengthAdjust="spacingAndGlyphs">Thomas and Rachel Upchurch</text>
<text class="t" x="163" y="932" textLength="335" lengthAdjust="spacingAndGlyphs">came to Great Gransden from St</text>
<text class="t" x="166" y="975" textLength="329" lengthAdjust="spacingAndGlyphs">Neots after the baptism of their</text>
<text class="t" x="168" y="1022" textLength="330" lengthAdjust="spacingAndGlyphs">daughter Lucy and before, that</text>
<text class="t" x="170" y="1064" textLength="325" lengthAdjust="spacingAndGlyphs">of their next daughter Sarah —</text>
<text class="t" x="172" y="1110" textLength="336" lengthAdjust="spacingAndGlyphs">presumably at Michaelmas 1821.</text>
</g>
</svg>
